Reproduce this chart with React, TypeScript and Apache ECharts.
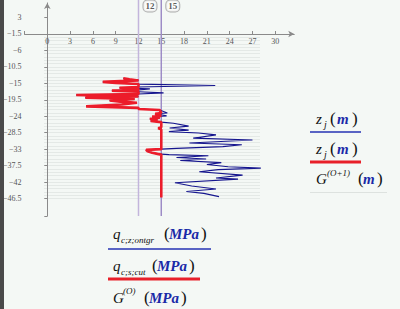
import React, { useEffect, useRef } from "react";
import * as echarts from "echarts";

// tick labels
const xTickValues = [0, 3, 6, 9, 12, 15, 18, 21, 24, 27, 30];
const yTickValues = [3, -1.5, -6, -10.5, -15, -19.5, -24, -28.5, -33, -37.5, -42, -46.5];
const markerValues = [12, 15];

// q_c;z;ontgr (MPa) vs z_j (m)
const blueQ = [10.0, 10.8, 12, 7.3, 9.0, 12, 22.1, 12, 9.5, 13.5, 12, 8.5, 12, 15.3, 12, 3.8, 12, 5.0, 11.5, 8.2, 9.6, 11.8, 9.8, 5.1, 12, 12, 14.8, 15.8, 14.2, 15.7, 13.8, 14.8, 13.5, 14.5, 13.6, 15, 16.6, 18.6, 16.1, 18.6, 16.0, 19.9, 22.2, 19.2, 27.0, 18.7, 25.6, 23.1, 17.0, 15.0, 13.0, 13.2, 13.8, 14.5, 16.0, 21.2, 17.0, 20.9, 17.5, 22.9, 21.0, 23.8, 28.1, 22.5, 20.0, 25.7, 22.2, 25.1, 16.8, 19.0, 22.2, 18.3, 20.6, 22.6];
const blueZ = [-13.6, -13.9, -14.2, -14.6, -14.9, -15.2, -15.6, -16.0, -16.2, -16.5, -16.8, -17.0, -17.3, -17.6, -17.9, -18.2, -18.6, -18.9, -19.3, -19.7, -20.0, -20.3, -20.8, -21.3, -21.7, -22.0, -22.3, -23.1, -23.3, -23.9, -24.1, -24.4, -24.7, -25.0, -25.3, -25.6, -25.9, -26.7, -27.2, -27.8, -28.2, -28.6, -29.1, -30.0, -30.5, -31.3, -31.8, -32.3, -32.8, -33.0, -33.2, -33.6, -34.0, -34.3, -34.5, -34.8, -35.3, -35.7, -36.1, -36.7, -37.2, -37.8, -38.2, -38.6, -39.2, -40.1, -40.9, -41.2, -42.2, -43.1, -43.9, -44.6, -45.1, -46.0];

// q_c;s;cut (MPa) vs z_j (m)
const redQ = [10.0, 10.8, 12, 7.3, 9.0, 12, 12, 12, 9.5, 12, 12, 8.5, 12, 12, 12, 3.8, 12, 5.0, 11.5, 8.2, 9.6, 11.8, 9.8, 5.1, 12, 12, 14.8, 15, 14.2, 15, 13.8, 14.8, 13.5, 14.5, 13.6, 15, 15, 14.6, 15, 15, 13.0, 13.2, 13.8, 14.5, 15, 15];
const redZ = [-13.6, -13.9, -14.2, -14.6, -14.9, -15.2, -15.6, -16.0, -16.2, -16.5, -16.8, -17.0, -17.3, -17.6, -17.9, -18.2, -18.6, -18.9, -19.3, -19.7, -20.0, -20.3, -20.8, -21.3, -21.7, -22.0, -22.3, -23.1, -23.3, -23.9, -24.1, -24.4, -24.7, -25.0, -25.3, -25.6, -27.0, -27.3, -27.6, -33.0, -33.2, -33.6, -34.0, -34.3, -34.5, -46.2];

const SERIF = '"Liberation Serif", "DejaVu Serif", serif';
const fmt = (v: number) => String(v).replace("-", "\u2212");

const txt = (text: string, x: number, y: number, font: string, fill = "#111") => ({
  type: "text",
  x,
  y,
  style: { text, font, fill, verticalAlign: "middle", align: "left" },
});
const seg = (x1: number, y: number, x2: number, stroke: string, lineWidth: number) => ({
  type: "line",
  shape: { x1, y1: y, x2, y2: y },
  style: { stroke, lineWidth },
});

export default function App() {
  const ref = useRef<HTMLDivElement>(null);
  useEffect(() => {
    if (!ref.current) return;
    const chart = echarts.init(ref.current, undefined, { renderer: "svg" });
    const it = (s: number) => `italic ${s}px ${SERIF}`;
    const bi = (s: number) => `italic bold ${s}px ${SERIF}`;
    const pr = (s: number) => `${s}px ${SERIF}`;
    const BLUE_T = "#1a2aa8";
    chart.setOption({
      animation: false,
      backgroundColor: "#f4f8f5",
      grid: [
        { left: 20.9, top: 2.93, width: 273.35, height: 213.1, containLabel: false },
        { left: 44, top: 34, width: 216, height: 164.5, containLabel: false },
      ],
      xAxis: [
        {
          type: "value",
          gridIndex: 0,
          min: -3,
          max: 32.5,
          position: "top",
          offset: -31.07,
          axisLine: { onZero: false, lineStyle: { color: "#8a8a8a", width: 1 }, symbol: ["none", "arrow"], symbolSize: [5, 6] },
          axisTick: { show: true, inside: false, length: 3, customValues: [-3, ...xTickValues], lineStyle: { color: "#8a8a8a" } },
          axisLabel: { inside: true, margin: 3, customValues: xTickValues, formatter: fmt, fontFamily: SERIF, fontSize: 8, color: "#555" },
          splitLine: { show: false },
        },
        {
          type: "value",
          gridIndex: 1,
          min: 0,
          max: 1,
          axisLine: { show: false },
          axisTick: { show: false },
          axisLabel: { show: false },
          splitLine: { show: false },
        },
      ],
      yAxis: [
        {
          type: "value",
          gridIndex: 0,
          min: -51.3,
          max: 7,
          axisLine: { onZero: true, lineStyle: { color: "#8a8a8a", width: 1 }, symbol: ["none", "arrow"], symbolSize: [5, 6] },
          axisTick: { show: true, length: 3, customValues: [...yTickValues, -51.3], lineStyle: { color: "#8a8a8a" } },
          axisLabel: { margin: 3, customValues: yTickValues, formatter: fmt, fontFamily: SERIF, fontSize: 8, color: "#555" },
          splitLine: { show: false },
        },
        {
          type: "value",
          gridIndex: 1,
          min: 0,
          max: 50,
          interval: 1,
          axisLine: { show: false },
          axisTick: { show: false },
          axisLabel: { show: false },
          splitLine: { show: true, lineStyle: { color: "#e4e9e6", width: 1 } },
        },
      ],
      series: [
        ...markerValues.map((m, i) => ({
          type: "line",
          xAxisIndex: 0,
          yAxisIndex: 0,
          data: [[m, -51.3], [m, 7.9]],
          showSymbol: false,
          clip: false,
          lineStyle: { color: i === 0 ? "#c3b5dc" : "#9d8cc6", width: 1.5 },
          z: 1,
        })),
        {
          type: "scatter",
          xAxisIndex: 0,
          yAxisIndex: 0,
          data: markerValues.map((m) => [m, 7]),
          symbolSize: 0,
          clip: false,
          label: {
            show: true,
            position: [5, -2.5],
            formatter: (p: any) => String(p.value[0]),
            fontFamily: SERIF,
            fontWeight: "bold",
            fontSize: 9,
            color: "#333",
            backgroundColor: "#fbfcfb",
            borderColor: "#9a9a9a",
            borderWidth: 1,
            borderRadius: 4,
            padding: [1, 2, 1, 2],
          },
          z: 5,
        },
        {
          type: "line",
          xAxisIndex: 0,
          yAxisIndex: 0,
          data: blueQ.map((q, i) => [q, blueZ[i]]),
          showSymbol: false,
          lineStyle: { color: "#16168e", width: 1.1 },
          z: 3,
        },
        {
          type: "line",
          xAxisIndex: 0,
          yAxisIndex: 0,
          data: redQ.map((q, i) => [q, redZ[i]]),
          showSymbol: false,
          lineStyle: { color: "#ec1c2a", width: 2.6 },
          z: 4,
        },
      ],
      graphic: [
        { type: "rect", shape: { x: 0, y: 0, width: 4, height: 309 }, style: { fill: "#4a4a4a" } },
        // right legend
        txt("z", 316, 118.5, it(15)),
        txt("j", 324, 124.5, it(10)),
        txt("(", 330, 118, pr(17)),
        txt("m", 337, 118.5, bi(15), BLUE_T),
        txt(")", 352, 118, pr(17)),
        seg(310, 132, 361, "#5964c4", 2),
        txt("z", 316, 148.5, it(15)),
        txt("j", 324, 154.5, it(10)),
        txt("(", 330, 148, pr(17)),
        txt("m", 337, 148.5, bi(15), BLUE_T),
        txt(")", 352, 148, pr(17)),
        seg(310, 162, 361, "#e8202a", 3),
        txt("G", 316, 178.5, it(15)),
        txt("(O+1)", 327, 173, it(9)),
        txt("(", 358, 178, pr(17)),
        txt("m", 363, 178.5, bi(15), BLUE_T),
        txt(")", 377, 178, pr(17)),
        seg(310, 192.5, 387, "#dde2df", 1),
        // bottom legend
        txt("q", 113, 233.5, it(15)),
        txt("c;z;ontgr", 121, 239.5, it(9)),
        txt("(", 164, 233, pr(17)),
        txt("MPa", 169, 233.5, bi(15), BLUE_T),
        txt(")", 201, 233, pr(17)),
        seg(108, 249, 211, "#5964c4", 2),
        txt("q", 113, 265.5, it(15)),
        txt("c;s;cut", 121, 271.5, it(9)),
        txt("(", 152, 265, pr(17)),
        txt("MPa", 157, 265.5, bi(15), BLUE_T),
        txt(")", 189, 265, pr(17)),
        seg(108, 279, 200, "#e8202a", 3),
        txt("G", 113, 297.5, it(15)),
        txt("(O)", 123, 291, it(9)),
        txt("(", 144, 297, pr(17)),
        txt("MPa", 149, 297.5, bi(15), BLUE_T),
        txt(")", 181, 297, pr(17)),
      ],
    });
    return () => chart.dispose();
  }, []);
  return <div ref={ref} style={{ position: "fixed", left: 0, top: 0, width: 400, height: 309 }} />;
}
